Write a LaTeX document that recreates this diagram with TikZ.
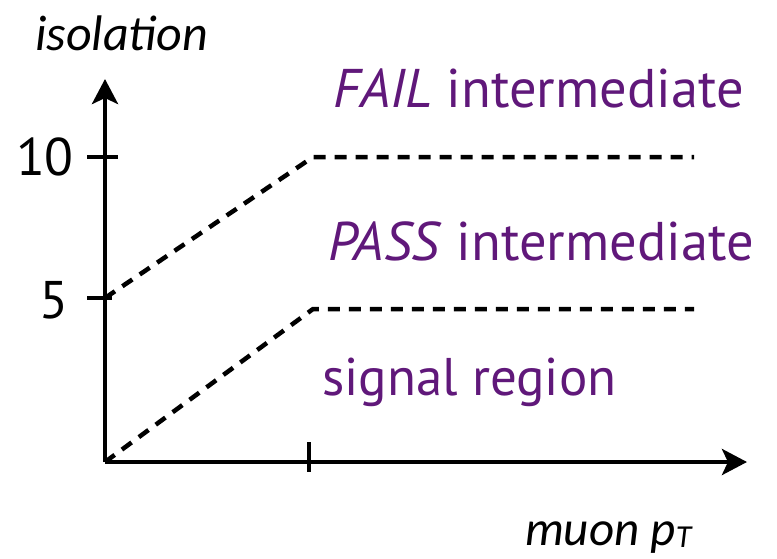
\documentclass[tikz,border=0pt]{standalone}
\usepackage{fontspec}
\setmainfont{PT Sans}
\newfontfamily\axisfont{Carlito}
\usetikzlibrary{arrows.meta}
\definecolor{regionpurple}{RGB}{96,24,122}
\begin{document}
\begin{tikzpicture}[x=1pt,y=-1pt,
  axis/.style={line width=4.5pt,-{Stealth[length=25pt,width=26pt,inset=6pt]}},
  tickline/.style={line width=3.5pt},
  cut/.style={line width=4.5pt,dash pattern=on 12pt off 9pt},
  axislabel/.style={anchor=base west,inner sep=0pt,font=\axisfont\itshape\fontsize{50}{56}\selectfont},
  ticklabel/.style={anchor=base east,inner sep=0pt,font=\fontsize{53}{60}\selectfont},
  region/.style={anchor=base west,inner sep=0pt,text=regionpurple,font=\fontsize{54.5}{60}\selectfont}]
\useasboundingbox (0,0) rectangle (777,558);
% axes
\coordinate (O) at (105,462);
\coordinate (ytip) at (105,79);
\coordinate (xtip) at (747,462);
\draw[axis] (O) -- (ytip);
\draw[axis] (O) -- (xtip);
% ticks
\coordinate (t10a) at (87,157);
\coordinate (t10b) at (118,157);
\coordinate (t5a) at (87,298);
\coordinate (t5b) at (112,298);
\coordinate (txa) at (309,442);
\coordinate (txb) at (309,472);
\draw[tickline] (t10a) -- (t10b);
\draw[tickline] (t5a) -- (t5b);
\draw[tickline] (txa) -- (txb);
% region boundaries
\coordinate (u0) at (105,298);
\coordinate (u1) at (313,157);
\coordinate (u2) at (694,157);
\coordinate (l0) at (105,462);
\coordinate (l1) at (313,309);
\coordinate (l2) at (694,309);
\draw[cut] (u0) -- (u1) -- (u2);
\draw[cut] (l0) -- (l1) -- (l2);
% labels
\node[axislabel] (ylab) at (35,50) {isolation};
\node[axislabel,font=\axisfont\itshape\fontsize{49}{56}\selectfont] (xlab) at (525,545) {muon p\raisebox{-2pt}{\fontsize{32}{32}\selectfont T}};
\node[ticklabel] (n10) at (74,175) {10};
\node[ticklabel] (n5) at (69,318) {5};
\node[region] (fail) at (333,107) {\textit{FAIL} intermediate};
\node[region] (pass) at (328,260) {\textit{PASS} intermediate};
\node[region,font=\fontsize{53}{60}\selectfont] (sig) at (322,395) {signal region};
\end{tikzpicture}
\end{document}
